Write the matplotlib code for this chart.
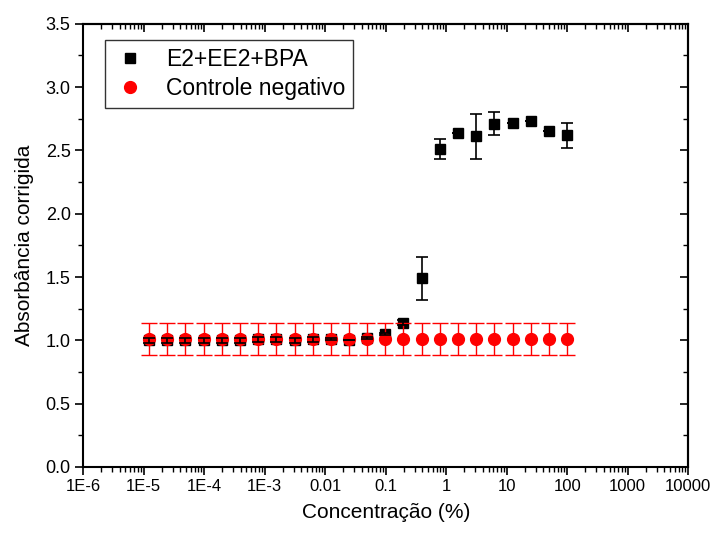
import matplotlib
matplotlib.use("Agg")
import matplotlib.pyplot as plt
from matplotlib import font_manager
from matplotlib.lines import Line2D
from matplotlib.ticker import LogLocator, FixedLocator, NullFormatter, MultipleLocator

plt.rcParams['font.family'] = ['Liberation Sans', 'DejaVu Sans']
names = {f.name for f in font_manager.fontManager.ttflist}
narrow = 'Liberation Sans Narrow' if 'Liberation Sans Narrow' in names else None

conc = [1.22e-5, 2.44e-5, 4.88e-5, 9.77e-5, 1.95e-4, 3.91e-4, 7.81e-4, 1.56e-3,
        3.13e-3, 6.25e-3, 1.25e-2, 2.44e-2, 4.88e-2, 9.77e-2, 0.195, 0.391,
        0.781, 1.5625, 3.125, 6.25, 12.5, 25.0, 50.0, 100.0]

mix_vals = [1.00, 1.00, 1.00, 1.00, 1.00, 1.00, 1.01, 1.01, 1.00, 1.01, 1.01, 1.00,
            1.02, 1.05, 1.14, 1.49, 2.51, 2.64, 2.61, 2.71, 2.72, 2.73, 2.65, 2.62]
mix_err = [0.02, 0.02, 0.02, 0.02, 0.02, 0.02, 0.02, 0.02, 0.02, 0.02, 0.01, 0.0,
           0.01, 0.01, 0.02, 0.17, 0.08, 0.0, 0.18, 0.09, 0.0, 0.0, 0.0, 0.10]

ctrl_vals = [1.01] * 24
ctrl_err = [0.125] * 24

xtick_vals = [1e-6, 1e-5, 1e-4, 1e-3, 1e-2, 1e-1, 1, 10, 100, 1000, 10000]
xtick_labels = ['1E-6', '1E-5', '1E-4', '1E-3', '0.01', '0.1', '1', '10', '100', '1000', '10000']

fig = plt.figure(figsize=(7.11, 5.34), dpi=100)
ax = fig.add_axes([0.117, 0.1255, 0.851, 0.83])

ax.plot(conc, mix_vals, linestyle='none', marker='s', color='black', markersize=7.5,
        zorder=3)
ax.errorbar(conc, ctrl_vals, yerr=ctrl_err, fmt='o', color='red', ecolor='red',
            elinewidth=1.0, capsize=6, capthick=1.0, markersize=8.5, zorder=4)
ax.errorbar(conc, mix_vals, yerr=mix_err, fmt='none', ecolor='black',
            elinewidth=1.2, capsize=4.3, capthick=1.2, zorder=5)

ax.set_xscale('log')
ax.set_xlim(1e-6, 1e4)
ax.set_ylim(0, 3.5)

ax.xaxis.set_major_locator(FixedLocator(xtick_vals))
ax.set_xticklabels(xtick_labels)
ax.xaxis.set_minor_locator(LogLocator(base=10, subs=[2, 3, 4, 5, 6, 7, 8, 9], numticks=20))
ax.xaxis.set_minor_formatter(NullFormatter())
ax.yaxis.set_major_locator(MultipleLocator(0.5))
ax.yaxis.set_minor_locator(MultipleLocator(0.25))
ax.yaxis.set_major_formatter(plt.FuncFormatter(lambda v, p: f'{v:.1f}'))

ax.tick_params(axis='both', which='major', direction='out', length=6, width=1.2,
               labelsize=13, top=False, right=False, pad=3)
ax.tick_params(axis='both', which='minor', direction='out', length=3.5, width=1.0,
               top=False, right=False)
if narrow:
    for lab in ax.get_xticklabels() + ax.get_yticklabels():
        lab.set_family([narrow, 'Liberation Sans'])
        lab.set_fontsize(14)
else:
    for lab in ax.get_xticklabels():
        lab.set_fontsize(12)

ax2 = ax.secondary_xaxis('top')
ax2.set_xscale('log')
ax2.xaxis.set_major_locator(FixedLocator(xtick_vals))
ax2.xaxis.set_minor_locator(LogLocator(base=10, subs=[2, 3, 4, 5, 6, 7, 8, 9], numticks=20))
ax2.tick_params(axis='x', which='major', direction='in', length=6, width=1.2, labeltop=False)
ax2.tick_params(axis='x', which='minor', direction='in', length=3.5, width=1.0)
ax2.xaxis.set_major_formatter(NullFormatter())
ax2.xaxis.set_minor_formatter(NullFormatter())

ay2 = ax.secondary_yaxis('right')
ay2.yaxis.set_major_locator(MultipleLocator(0.5))
ay2.yaxis.set_minor_locator(MultipleLocator(0.25))
ay2.tick_params(axis='y', which='major', direction='in', length=6, width=1.2, labelright=False)
ay2.tick_params(axis='y', which='minor', direction='in', length=3.5, width=1.0)
ay2.yaxis.set_major_formatter(NullFormatter())

for s in ax.spines.values():
    s.set_linewidth(1.5)
for s in list(ax2.spines.values()) + list(ay2.spines.values()):
    s.set_linewidth(1.5)

ax.set_xlabel('Concentração (%)', fontsize=15, labelpad=6)
ax.set_ylabel('Absorbância corrigida', fontsize=15, labelpad=8)

handles = [Line2D([], [], linestyle='none', marker='s', color='black', markersize=7.5),
           Line2D([], [], linestyle='none', marker='o', color='red', markersize=8.5)]
leg = ax.legend(handles, ['E2+EE2+BPA', 'Controle negativo'], loc='upper left',
                bbox_to_anchor=(0.036, 0.963), fontsize=16.5,
                frameon=True, fancybox=False, edgecolor='black', borderpad=0.35,
                handletextpad=0.8, handlelength=1.5, borderaxespad=0, labelspacing=0.25)
leg.get_frame().set_linewidth(1.0)

fig.savefig('out.png', dpi=100)
